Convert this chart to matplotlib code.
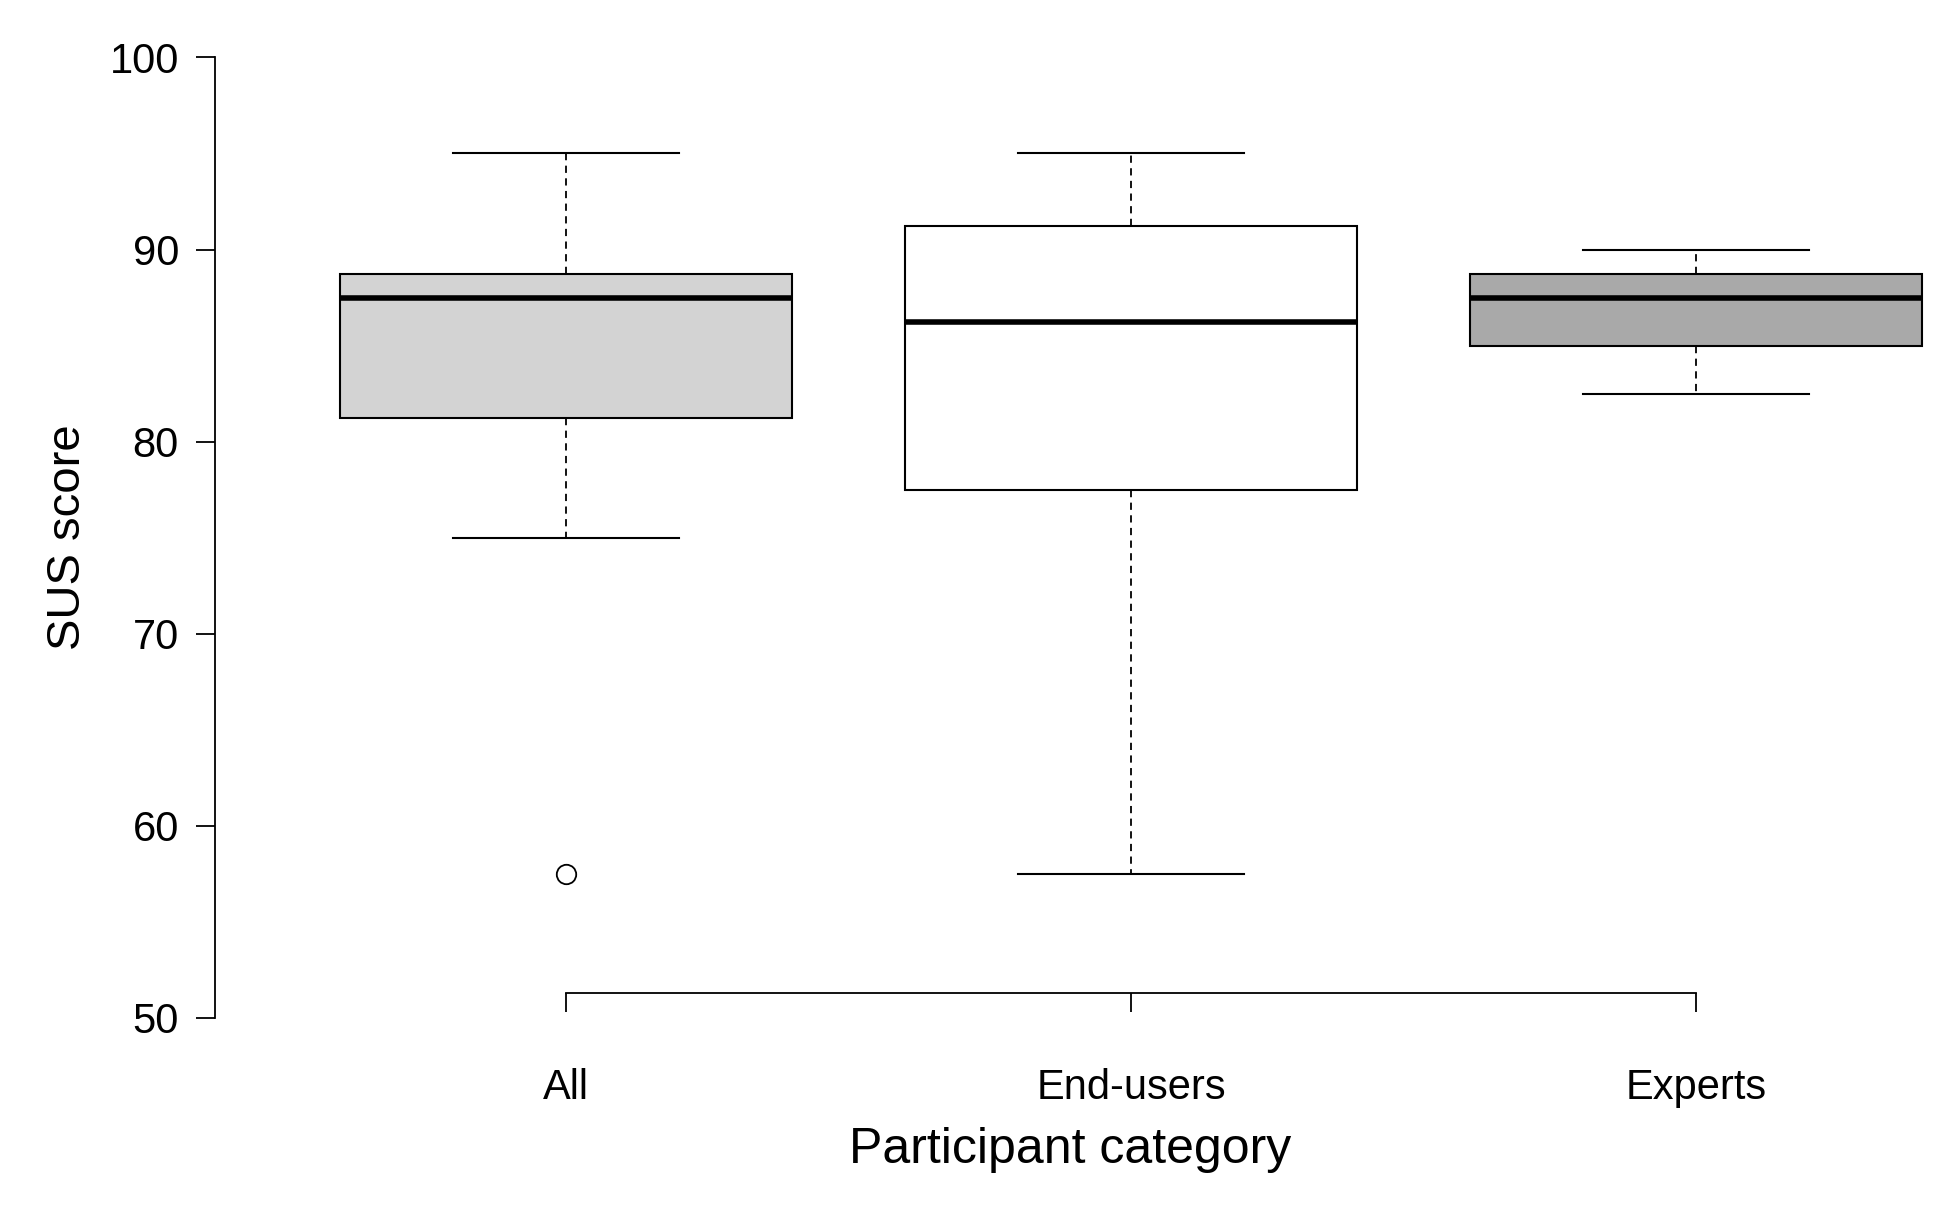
import matplotlib.pyplot as plt

categories = ['All', 'End-users', 'Experts']
whislo = [75, 57.5, 82.5]
q1 = [81.25, 77.5, 85]
med = [87.5, 86.25, 87.5]
q3 = [88.75, 91.25, 88.75]
whishi = [95, 95, 90]
fliers = [[57.5], [], []]
colors = ['#d3d3d3', '#ffffff', '#a9a9a9']

plt.rcParams['font.family'] = ['Liberation Sans', 'DejaVu Sans']

fig = plt.figure(figsize=(19.55, 12.22), dpi=100)
ax = fig.add_axes([0.110, 0.167, 0.875, 0.786])

stats = []
for i, c in enumerate(categories):
    stats.append(dict(label=c, whislo=whislo[i], q1=q1[i], med=med[i],
                      q3=q3[i], whishi=whishi[i], fliers=fliers[i]))

bp = ax.bxp(stats, positions=[1, 2, 3], widths=0.8, patch_artist=True,
            boxprops=dict(edgecolor='black', linewidth=1.5),
            medianprops=dict(color='black', linewidth=4),
            whiskerprops=dict(color='black', linestyle=(0, (4, 3)), linewidth=1.3),
            capprops=dict(color='black', linewidth=1.5),
            flierprops=dict(marker='o', markerfacecolor='none',
                            markeredgecolor='black', markersize=14, markeredgewidth=1.3),
            capwidths=0.4)
for patch, col in zip(bp['boxes'], colors):
    patch.set_facecolor(col)

ax.set_xlim(0.379, 3.406)
ax.set_ylim(50, 100)
ax.set_yticks([50, 60, 70, 80, 90, 100])
for s in ['top', 'right']:
    ax.spines[s].set_visible(False)
ax.spines['bottom'].set_position(('data', 51.3))
ax.spines['bottom'].set_bounds(1, 3)
ax.spines['left'].set_bounds(50, 100)
ax.spines['bottom'].set_linewidth(1.3)
ax.spines['left'].set_linewidth(1.3)
ax.tick_params(axis='both', labelsize=30, length=14, width=1.3, pad=12)
ax.tick_params(axis='x', pad=40)
ax.set_ylabel('SUS score', fontsize=34, labelpad=14)
ax.set_xlabel('Participant category', fontsize=36, labelpad=14)

fig.savefig('out.png')
